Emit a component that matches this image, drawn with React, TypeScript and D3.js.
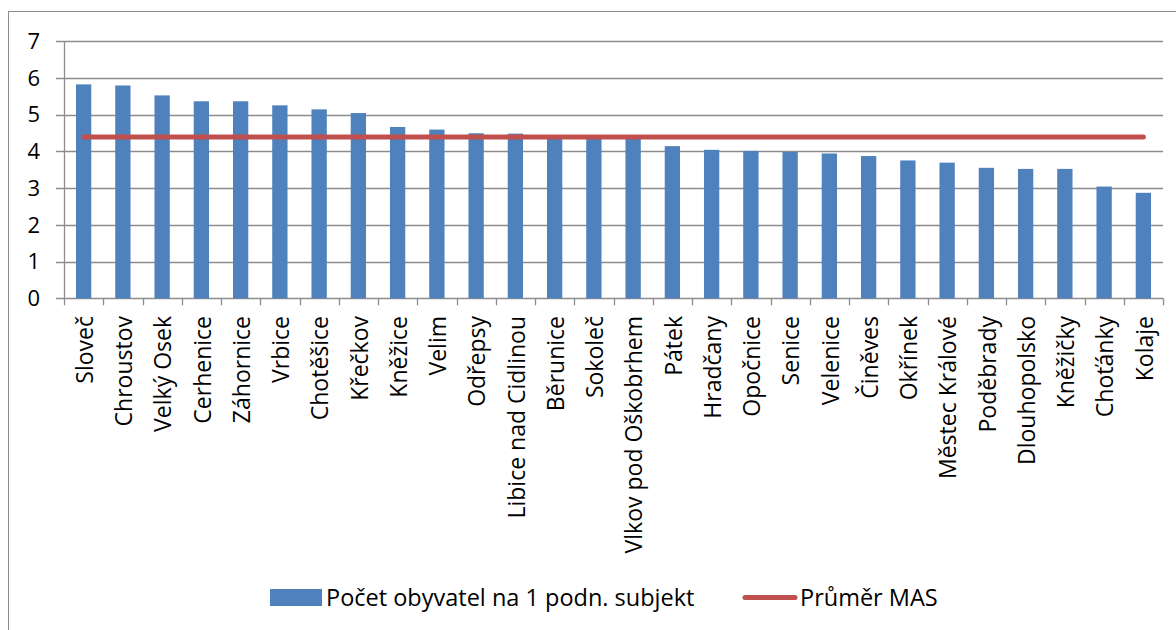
import { useEffect, useRef } from 'react'
import * as d3 from 'd3'

const categories = [
  'Sloveč', 'Chroustov', 'Velký Osek', 'Cerhenice', 'Záhornice', 'Vrbice', 'Chotěšice',
  'Křečkov', 'Kněžice', 'Velim', 'Odřepsy', 'Libice nad Cidlinou', 'Běrunice', 'Sokoleč',
  'Vlkov pod Oškobrhem', 'Pátek', 'Hradčany', 'Opočnice', 'Senice', 'Velenice', 'Činěves',
  'Okřínek', 'Městec Králové', 'Poděbrady', 'Dlouhopolsko', 'Kněžičky', 'Choťánky', 'Kolaje'
]

const obyvatelValues = [
  5.82, 5.79, 5.52, 5.36, 5.36, 5.25, 5.14,
  5.04, 4.66, 4.59, 4.49, 4.48, 4.44, 4.42,
  4.4, 4.14, 4.04, 4.01, 3.98, 3.94, 3.87,
  3.75, 3.69, 3.55, 3.52, 3.52, 3.04, 2.87
]

const prumerMAS = categories.map(() => 4.39)

const yTicks = [0, 1, 2, 3, 4, 5, 6, 7]

const seriesNames = ['Počet obyvatel na 1 podn. subjekt', 'Průměr MAS']

const BLUE = '#4F81BD'
const RED = '#C0504D'
const GRID = '#8c8c8c'
const FONT = '"Open Sans", Lato, sans-serif'

export default function App() {
  const ref = useRef<SVGSVGElement | null>(null)

  useEffect(() => {
    document.body.style.margin = '0'
    if (!ref.current) return
    const svg = d3.select(ref.current)
    svg.selectAll('*').remove()

    const left = 64
    const right = 1163
    const top = 41
    const bottom = 298.3

    // outer chart frame (runs off the page at right/bottom like the source)
    svg.append('rect')
      .attr('x', 8.5).attr('y', 11.5)
      .attr('width', 1200).attr('height', 700)
      .attr('fill', 'white').attr('stroke', GRID).attr('stroke-width', 1)

    const x = d3.scaleBand<string>()
      .domain(categories)
      .range([left, right])
      .paddingInner(0.61)
      .paddingOuter(0.305)

    const y = d3.scaleLinear().domain([0, 7]).range([bottom, top])

    // gridlines + y ticks
    const g = svg.append('g')
    g.selectAll('.grid')
      .data(yTicks)
      .enter()
      .append('line')
      .attr('x1', left - 8)
      .attr('x2', right)
      .attr('y1', d => Math.round(y(d)) + 0.5)
      .attr('y2', d => Math.round(y(d)) + 0.5)
      .attr('stroke', GRID)
      .attr('stroke-width', 1.3)

    g.selectAll('.ylab')
      .data(yTicks)
      .enter()
      .append('text')
      .attr('x', 40)
      .attr('y', d => y(d))
      .attr('dy', '0.36em')
      .attr('text-anchor', 'end')
      .attr('font-family', FONT)
      .attr('font-size', 22)
      .attr('fill', '#000')
      .text(d => d)

    // y axis line
    g.append('line')
      .attr('x1', left + 0.5).attr('x2', left + 0.5)
      .attr('y1', top).attr('y2', bottom)
      .attr('stroke', GRID).attr('stroke-width', 1.3)

    // x ticks
    const step = x.step()
    const tickXs = d3.range(categories.length + 1).map(i => left + i * step)
    g.selectAll('.xtick')
      .data(tickXs)
      .enter()
      .append('line')
      .attr('x1', d => Math.round(d) + 0.5)
      .attr('x2', d => Math.round(d) + 0.5)
      .attr('y1', bottom)
      .attr('y2', bottom + 7)
      .attr('stroke', GRID)
      .attr('stroke-width', 1.3)

    // bars
    svg.append('g')
      .selectAll('rect')
      .data(obyvatelValues)
      .enter()
      .append('rect')
      .attr('x', (d, i) => x(categories[i]) as number)
      .attr('y', d => y(d))
      .attr('width', x.bandwidth())
      .attr('height', d => y(0) - y(d))
      .attr('fill', BLUE)

    // average line
    const line = d3.line<number>()
      .x((d, i) => (x(categories[i]) as number) + x.bandwidth() / 2)
      .y(d => y(d))
    svg.append('path')
      .datum(prumerMAS)
      .attr('d', line)
      .attr('fill', 'none')
      .attr('stroke', RED)
      .attr('stroke-width', 5)
      .attr('stroke-linecap', 'round')

    // category labels (rotated)
    svg.append('g')
      .selectAll('text')
      .data(categories)
      .enter()
      .append('text')
      .attr('transform', d => `translate(${(x(d) as number) + x.bandwidth() / 2 + 1},316) rotate(-90)`)
      .attr('dy', '0.36em')
      .attr('text-anchor', 'end')
      .attr('font-family', FONT)
      .attr('font-size', 23)
      .attr('fill', '#000')
      .text(d => d)

    // legend
    const leg = svg.append('g')
    leg.append('rect')
      .attr('x', 270).attr('y', 589)
      .attr('width', 52).attr('height', 17)
      .attr('fill', BLUE)
    leg.append('text')
      .attr('x', 326).attr('y', 597.5)
      .attr('dy', '0.36em')
      .attr('font-family', FONT)
      .attr('font-size', 23.5)
      .text(seriesNames[0])
    leg.append('line')
      .attr('x1', 745).attr('x2', 795)
      .attr('y1', 597.5).attr('y2', 597.5)
      .attr('stroke', RED).attr('stroke-width', 5)
      .attr('stroke-linecap', 'round')
    leg.append('text')
      .attr('x', 800).attr('y', 597.5)
      .attr('dy', '0.36em')
      .attr('font-family', FONT)
      .attr('font-size', 23.5)
      .text(seriesNames[1])
  }, [])

  return (
    <svg ref={ref} width={1176} height={630} style={{ display: 'block', position: 'absolute', left: 0, top: 0, background: 'white' }} />
  )
}
